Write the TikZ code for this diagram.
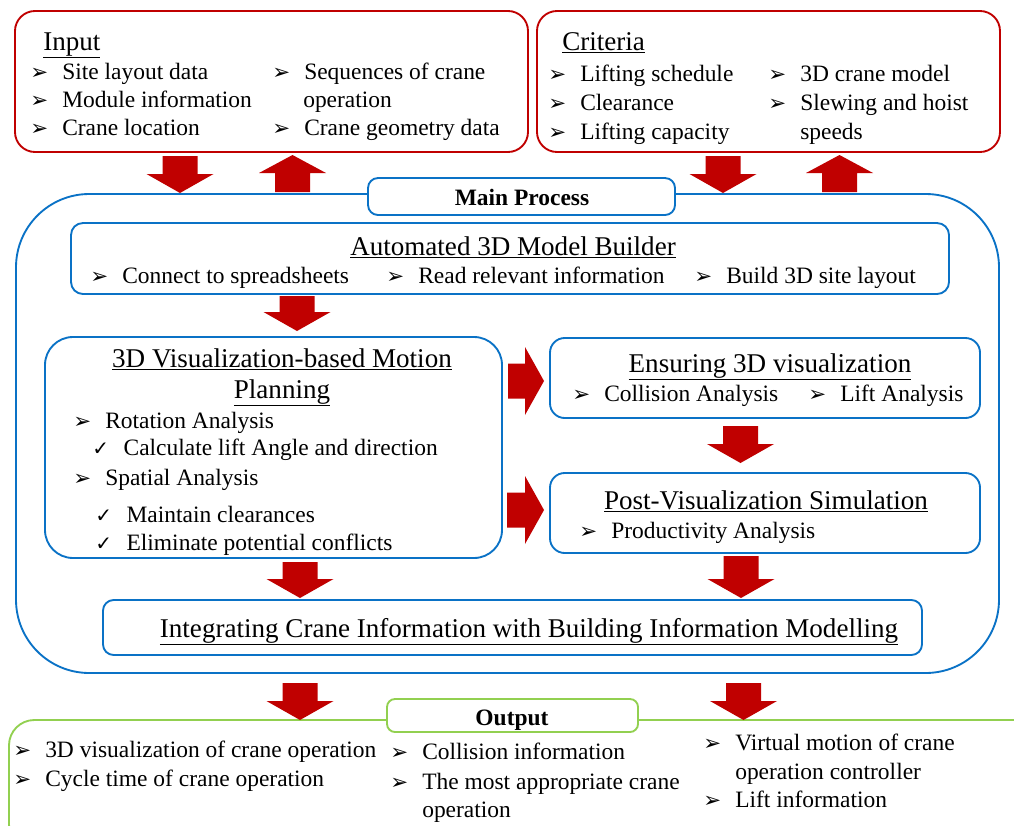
\documentclass[tikz,border=0pt]{standalone}
\usepackage{fontspec}
\setmainfont{Liberation Serif}
\newfontfamily\symfont{DejaVu Sans}
\usetikzlibrary{calc}

\definecolor{boxred}{HTML}{C00000}
\definecolor{boxblue}{HTML}{0A72C6}
\definecolor{boxgreen}{HTML}{92D050}
\definecolor{arrowred}{HTML}{C00000}

\newcommand\bodyfont{\fontsize{17.6pt}{21pt}\selectfont}
\newcommand\headfont{\fontsize{20.3pt}{24pt}\selectfont}
\newcommand\ab{\makebox[24pt][l]{\symfont\fontsize{16pt}{16pt}\selectfont ➢}}
\newcommand\cb{\makebox[23.5pt][l]{\symfont\fontsize{15pt}{15pt}\selectfont ✓}}

% rounded panel given by its corners in pixel units
\newcommand\panel[6]{%
  \node[#6, minimum width={(#4-#2)*0.75pt}, minimum height={(#5-#3)*0.75pt}]
    (#1) at ({(#2+#4)/2},{(#3+#5)/2}) {};}
% block arrows: down (cx, ytop, ytip), up (cx, ytip, ybottom), right (cy, xstart, xtip)
\newcommand\downblock[3]{%
  \path[blockarrow] (#1-17.5,#2) -- (#1+17.5,#2) -- (#1+17.5,#3-19) -- (#1+33.5,#3-19)
    -- (#1,#3) -- (#1-33.5,#3-19) -- (#1-17.5,#3-19) -- cycle;}
\newcommand\upblock[3]{%
  \path[blockarrow] (#1-17.5,#3) -- (#1+17.5,#3) -- (#1+17.5,#2+18) -- (#1+33.5,#2+18)
    -- (#1,#2) -- (#1-33.5,#2+18) -- (#1-17.5,#2+18) -- cycle;}
\newcommand\rightblock[3]{%
  \path[blockarrow] (#2,#1-17.5) -- (#3-19,#1-17.5) -- (#3-19,#1-34) -- (#3,#1)
    -- (#3-19,#1+34) -- (#3-19,#1+17.5) -- (#2,#1+17.5) -- cycle;}

\begin{document}
\begin{tikzpicture}[x=0.75pt,y=-0.75pt,
  redbox/.style={draw=boxred, line width=1.4pt, fill=white},
  bluebox/.style={draw=boxblue, line width=1.4pt, fill=white},
  greenbox/.style={draw=boxgreen, line width=1.4pt, fill=white},
  txt/.style={anchor=base west, inner sep=0pt, font=\bodyfont},
  head/.style={anchor=base, inner sep=0pt, font=\headfont},
  tag/.style={anchor=base, inner sep=0pt, font=\bodyfont\bfseries},
  blockarrow/.style={fill=arrowred, draw=none}]
\useasboundingbox (0,0) rectangle (1014,825);
\clip (0,0) rectangle (1014,825);

% ---------- Input and Criteria ----------
\panel{input}{15}{11}{528}{152}{redbox, rounded corners=15pt}
\panel{criteria}{537}{11}{1000}{152}{redbox, rounded corners=15pt}

\node[head, anchor=base west] (inhead) at (43,50) {\underline{Input}};
\node[txt] (in1) at (30,79)  {\ab Site layout data};
\node[txt] (in2) at (30,107) {\ab Module information};
\node[txt] (in3) at (30,135) {\ab Crane location};
\node[txt] (in4) at (272,79) {\ab Sequences of crane};
\node[txt] (in5) at (303,107) {operation};
\node[txt] (in6) at (272,135) {\ab Crane geometry data};

\node[head, anchor=base west] (crhead) at (562,50) {\underline{Criteria}};
\node[txt] (cr1) at (548,81)  {\ab Lifting schedule};
\node[txt] (cr2) at (548,110) {\ab Clearance};
\node[txt] (cr3) at (548,139) {\ab Lifting capacity};
\node[txt] (cr4) at (768,81)  {\ab 3D crane model};
\node[txt] (cr5) at (768,110) {\ab Slewing and hoist};
\node[txt] (cr6) at (800,139) {speeds};

% ---------- Main process frame ----------
\panel{main}{16}{194}{999}{673}{bluebox, rounded corners=55pt}
\panel{maintag}{368}{178}{675}{215}{bluebox, rounded corners=7.5pt}
\node[tag] (maintxt) at (522,205) {Main Process};

\downblock{180}{156}{193}
\upblock{292.5}{155}{192}
\downblock{723}{156}{193}
\upblock{839.5}{155}{192}

% Automated 3D model builder
\panel{builder}{71}{223}{949}{294}{bluebox, rounded corners=9pt}
\node[head] (bhead) at (513,255) {\underline{Automated 3D Model Builder}};
\node[txt] (b1) at (90,283)  {\ab Connect to spreadsheets};
\node[txt] (b2) at (386,283) {\ab Read relevant information};
\node[txt] (b3) at (694,283) {\ab Build 3D site layout};

\downblock{297}{296}{331}

% Motion planning
\panel{motion}{45}{337}{502}{558}{bluebox, rounded corners=21pt}
\node[head] (mhead1) at (282,367) {\underline{3D Visualization-based Motion}};
\node[head] (mhead2) at (282,398) {\underline{Planning}};
\node[txt] (m1) at (73,428) {\ab Rotation Analysis};
\node[txt] (m2) at (92,455) {\cb Calculate lift Angle and direction};
\node[txt] (m3) at (73,485) {\ab Spatial Analysis};
\node[txt] (m4) at (95,522) {\cb Maintain clearances};
\node[txt] (m5) at (95,550) {\cb Eliminate potential conflicts};

\rightblock{381}{508}{544}
\rightblock{510}{507}{544}

% Ensuring 3D visualization
\panel{ensure}{550}{338}{980}{418}{bluebox, rounded corners=11pt}
\node[head] (ehead) at (770,372) {\underline{Ensuring 3D visualization}};
\node[txt] (e1) at (572,401) {\ab Collision Analysis};
\node[txt] (e2) at (808,401) {\ab Lift Analysis};

\downblock{740.5}{426}{463}

% Post-visualization simulation
\panel{post}{550}{473}{980}{553}{bluebox, rounded corners=11pt}
\node[head] (phead) at (766,509) {\underline{Post-Visualization Simulation}};
\node[txt] (p1) at (579,538) {\ab Productivity Analysis};

\downblock{300}{562}{598}
\downblock{741}{556}{598}

% Integration with BIM
\panel{bim}{103}{600}{922}{655}{bluebox, rounded corners=8pt}
\node[head] (bimtxt) at (529,637) {\underline{Integrating Crane Information with Building Information Modelling}};

% ---------- Output ----------
\panel{output}{9}{720}{1040}{850}{greenbox, rounded corners=19pt}
\downblock{300}{683}{720}
\downblock{743.5}{683}{720}
\panel{outtag}{387}{699}{638}{732}{greenbox, rounded corners=6pt}
\node[tag] (outtxt) at (512,725) {Output};

\node[txt] (o1) at (13,757) {\ab 3D visualization of crane operation};
\node[txt] (o2) at (13,786) {\ab Cycle time of crane operation};
\node[txt] (o3) at (390,759) {\ab Collision information};
\node[txt] (o4) at (390,789) {\ab The most appropriate crane};
\node[txt] (o5) at (422,817) {operation};
\node[txt] (o6) at (703,750) {\ab Virtual motion of crane};
\node[txt] (o7) at (735,779) {operation controller};
\node[txt] (o8) at (703,807) {\ab Lift information};
\end{tikzpicture}
\end{document}
